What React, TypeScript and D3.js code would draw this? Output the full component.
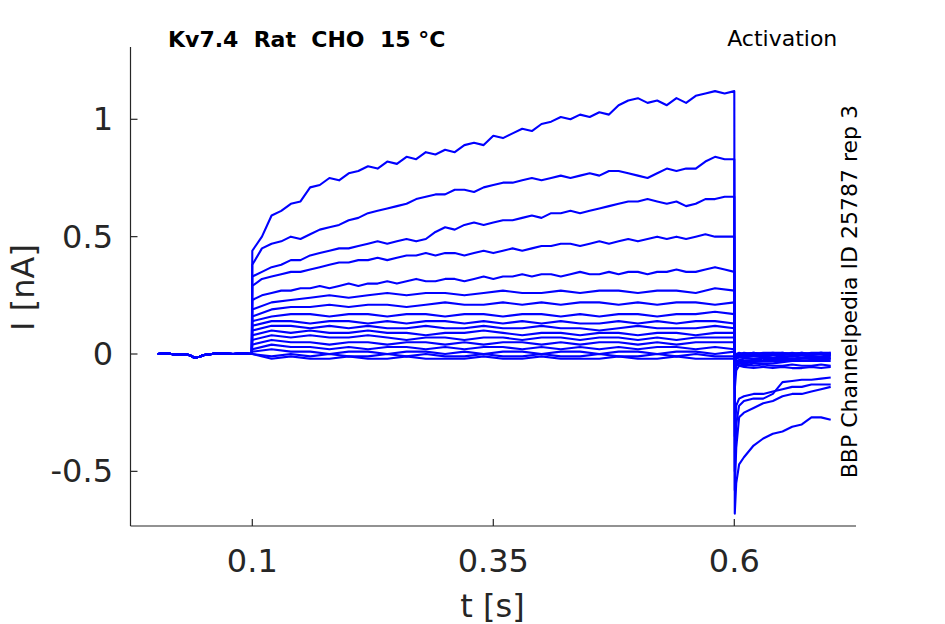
import { line, scaleLinear } from "d3";

const width = 945;
const height = 624;

// holding period before the step, shared by every sweep
const preTimes = [0.002, 0.01, 0.02, 0.03, 0.035, 0.04, 0.045, 0.05, 0.06, 0.07, 0.08, 0.09, 0.0995];
const preValues = [0.0, 0.003, -0.002, 0.0, -0.005, -0.016, -0.012, -0.004, 0.001, 0.002, 0.0, 0.002, 0.0];

// step sampled every 10 ms (largest sweeps)
const fineTimes = [
  0.1, 0.11, 0.12, 0.13, 0.14, 0.15, 0.16, 0.17, 0.18, 0.19, 0.2, 0.21, 0.22, 0.23, 0.24, 0.25, 0.26,
  0.27, 0.28, 0.29, 0.3, 0.31, 0.32, 0.33, 0.34, 0.35, 0.36, 0.37, 0.38, 0.39, 0.4, 0.41, 0.42, 0.43,
  0.44, 0.45, 0.46, 0.47, 0.48, 0.49, 0.5, 0.51, 0.52, 0.53, 0.54, 0.55, 0.56, 0.57, 0.58, 0.59, 0.6,
];
const sweep1 = [
  0.44, 0.5, 0.59, 0.61, 0.64, 0.65, 0.71, 0.72, 0.75, 0.74, 0.77, 0.78, 0.8, 0.79, 0.82, 0.81, 0.84,
  0.83, 0.86, 0.85, 0.87, 0.86, 0.89, 0.9, 0.89, 0.93, 0.92, 0.94, 0.96, 0.95, 0.98, 0.99, 1.01, 1.0,
  1.02, 1.01, 1.03, 1.02, 1.06, 1.08, 1.09, 1.07, 1.08, 1.06, 1.09, 1.07, 1.1, 1.11, 1.12, 1.11, 1.12,
];
const sweep2 = [
  0.38, 0.45, 0.47, 0.48, 0.5, 0.49, 0.51, 0.53, 0.54, 0.55, 0.57, 0.58, 0.6, 0.61, 0.62, 0.63, 0.64,
  0.66, 0.67, 0.68, 0.68, 0.7, 0.7, 0.69, 0.71, 0.72, 0.73, 0.73, 0.74, 0.75, 0.74, 0.75, 0.76, 0.75,
  0.76, 0.77, 0.76, 0.78, 0.78, 0.77, 0.76, 0.75, 0.77, 0.79, 0.78, 0.79, 0.79, 0.82, 0.84, 0.83, 0.83,
];
const sweep3 = [
  0.33, 0.35, 0.37, 0.38, 0.4, 0.4, 0.42, 0.43, 0.44, 0.45, 0.45, 0.46, 0.47, 0.48, 0.47, 0.48, 0.49,
  0.48, 0.49, 0.52, 0.54, 0.53, 0.55, 0.56, 0.55, 0.56, 0.57, 0.57, 0.58, 0.59, 0.58, 0.6, 0.6, 0.61,
  0.6, 0.61, 0.62, 0.63, 0.64, 0.65, 0.65, 0.66, 0.65, 0.64, 0.65, 0.63, 0.64, 0.66, 0.66, 0.67, 0.67,
];
const sweep4 = [
  0.29, 0.32, 0.33, 0.34, 0.35, 0.35, 0.36, 0.37, 0.38, 0.39, 0.39, 0.4, 0.4, 0.41, 0.4, 0.41, 0.42,
  0.42, 0.43, 0.42, 0.43, 0.43, 0.42, 0.43, 0.44, 0.43, 0.44, 0.45, 0.44, 0.45, 0.46, 0.46, 0.47, 0.47,
  0.46, 0.47, 0.48, 0.47, 0.48, 0.49, 0.48, 0.49, 0.5, 0.49, 0.5, 0.49, 0.5, 0.51, 0.5, 0.5, 0.5,
];
const sweep5 = [
  0.23, 0.25, 0.26, 0.27, 0.27, 0.28, 0.28, 0.29, 0.28, 0.29, 0.3, 0.29, 0.3, 0.3, 0.31, 0.3, 0.31,
  0.32, 0.31, 0.31, 0.32, 0.32, 0.31, 0.32, 0.33, 0.32, 0.33, 0.33, 0.34, 0.33, 0.34, 0.34, 0.33, 0.34,
  0.35, 0.34, 0.34, 0.35, 0.34, 0.35, 0.35, 0.34, 0.35, 0.35, 0.36, 0.35, 0.35, 0.36, 0.37, 0.36, 0.35,
];

// step sampled every 20 ms (small sweeps)
const coarseTimes = [
  0.1, 0.12, 0.14, 0.16, 0.18, 0.2, 0.22, 0.24, 0.26, 0.28, 0.3, 0.32, 0.34, 0.36, 0.38, 0.4, 0.42,
  0.44, 0.46, 0.48, 0.5, 0.52, 0.54, 0.56, 0.58, 0.6,
];
const sweep6 = [0.19, 0.22, 0.23, 0.24, 0.25, 0.24, 0.25, 0.26, 0.25, 0.26, 0.26, 0.25, 0.26, 0.27, 0.26, 0.26, 0.27, 0.26, 0.27, 0.27, 0.26, 0.27, 0.27, 0.26, 0.28, 0.27];
const sweep7 = [0.16, 0.19, 0.2, 0.2, 0.21, 0.2, 0.21, 0.21, 0.2, 0.21, 0.22, 0.21, 0.21, 0.22, 0.21, 0.22, 0.21, 0.22, 0.22, 0.21, 0.22, 0.21, 0.22, 0.22, 0.21, 0.22];
const sweep8 = [0.14, 0.16, 0.17, 0.17, 0.16, 0.17, 0.17, 0.16, 0.17, 0.17, 0.16, 0.17, 0.17, 0.16, 0.17, 0.17, 0.16, 0.17, 0.16, 0.17, 0.17, 0.16, 0.17, 0.17, 0.18, 0.17];
const sweep9 = [0.12, 0.14, 0.14, 0.13, 0.14, 0.14, 0.13, 0.14, 0.13, 0.14, 0.14, 0.13, 0.14, 0.13, 0.14, 0.13, 0.14, 0.13, 0.13, 0.14, 0.13, 0.14, 0.13, 0.14, 0.14, 0.13];
const sweep10 = [0.1, 0.12, 0.12, 0.11, 0.12, 0.11, 0.12, 0.11, 0.11, 0.12, 0.11, 0.11, 0.12, 0.11, 0.11, 0.12, 0.11, 0.11, 0.1, 0.11, 0.12, 0.11, 0.11, 0.11, 0.12, 0.11];
const sweep11 = [0.08, 0.1, 0.09, 0.1, 0.09, 0.09, 0.1, 0.09, 0.09, 0.08, 0.09, 0.09, 0.1, 0.09, 0.08, 0.09, 0.09, 0.08, 0.09, 0.09, 0.08, 0.09, 0.09, 0.08, 0.09, 0.09];
const sweep12 = [0.06, 0.08, 0.07, 0.08, 0.07, 0.07, 0.08, 0.07, 0.06, 0.07, 0.07, 0.06, 0.07, 0.07, 0.06, 0.07, 0.07, 0.06, 0.07, 0.07, 0.06, 0.07, 0.06, 0.07, 0.07, 0.07];
const sweep13 = [0.04, 0.06, 0.05, 0.05, 0.04, 0.05, 0.05, 0.04, 0.05, 0.05, 0.04, 0.05, 0.04, 0.05, 0.05, 0.04, 0.05, 0.04, 0.05, 0.05, 0.04, 0.05, 0.04, 0.05, 0.05, 0.05];
const sweep14 = [0.02, 0.04, 0.03, 0.03, 0.02, 0.03, 0.02, 0.03, 0.03, 0.02, 0.03, 0.02, 0.03, 0.03, 0.02, 0.03, 0.02, 0.03, 0.02, 0.03, 0.02, 0.03, 0.03, 0.02, 0.03, 0.02];
const sweep15 = [0.01, 0.02, 0.01, 0.01, 0.0, 0.01, 0.01, 0.0, 0.01, 0.01, 0.0, 0.01, 0.0, 0.01, 0.01, 0.0, 0.01, 0.01, 0.0, 0.01, 0.01, 0.0, 0.01, 0.01, 0.0, 0.01];
const sweep16 = [0.0, -0.01, 0.0, -0.01, 0.0, -0.01, -0.01, 0.0, -0.01, 0.0, -0.01, -0.01, 0.0, -0.01, -0.01, 0.0, -0.01, -0.01, 0.0, -0.01, -0.01, 0.0, -0.01, 0.0, -0.01, -0.01];
const sweep17 = [0.0, -0.02, -0.01, -0.02, -0.02, -0.01, -0.02, -0.02, -0.01, -0.02, -0.02, -0.02, -0.01, -0.02, -0.02, -0.01, -0.02, -0.02, -0.02, -0.01, -0.02, -0.02, -0.01, -0.02, -0.02, -0.02];

// tail currents after the step
const tailTimes = [0.6005, 0.602, 0.605, 0.61, 0.62, 0.63, 0.64, 0.65, 0.66, 0.67, 0.68, 0.69, 0.7];
const tail1 = [-0.68, -0.55, -0.47, -0.44, -0.39, -0.36, -0.34, -0.33, -0.31, -0.3, -0.27, -0.27, -0.28];
const tail2 = [-0.58, -0.4, -0.27, -0.25, -0.23, -0.21, -0.2, -0.18, -0.17, -0.17, -0.16, -0.15, -0.14];
const tail3 = [-0.5, -0.3, -0.22, -0.2, -0.19, -0.19, -0.17, -0.12, -0.115, -0.11, -0.11, -0.105, -0.1];
const tail4 = [-0.35, -0.22, -0.19, -0.18, -0.17, -0.17, -0.16, -0.15, -0.14, -0.14, -0.13, -0.13, -0.13];
const tail5 = [-0.15, -0.07, -0.05, -0.05, -0.04, -0.04, -0.04, -0.035, -0.03, -0.03, -0.03, -0.03, -0.03];
const tail6 = [-0.1, -0.05, -0.04, -0.035, -0.03, -0.03, -0.03, -0.025, -0.025, -0.02, -0.02, -0.02, -0.02];
const tail7 = [-0.08, -0.05, -0.04, -0.04, -0.035, -0.03, -0.03, -0.03, -0.025, -0.03, -0.025, -0.025, -0.02];
const tail8 = [-0.06, -0.04, -0.03, -0.03, -0.025, -0.02, -0.025, -0.02, -0.02, -0.02, -0.015, -0.02, -0.015];
const tail9 = [-0.05, -0.03, -0.025, -0.02, -0.02, -0.015, -0.02, -0.015, -0.01, -0.015, -0.01, -0.015, -0.01];
const tail10 = [-0.04, -0.02, -0.015, -0.015, -0.01, -0.01, -0.015, -0.01, -0.01, -0.005, -0.01, -0.01, -0.005];
const tail11 = [-0.03, -0.015, -0.01, -0.01, -0.005, -0.01, -0.005, -0.005, 0.0, -0.005, -0.005, 0.0, -0.005];
const tail12 = [-0.02, -0.01, -0.005, -0.005, 0.0, -0.005, 0.0, 0.0, -0.005, 0.0, 0.0, 0.005, 0.0];
const tail13 = [-0.015, -0.005, 0.0, 0.0, 0.005, 0.0, 0.0, 0.005, 0.0, 0.005, 0.0, 0.0, 0.005];
const tail14 = [-0.01, 0.0, 0.0, 0.005, 0.0, 0.005, 0.005, 0.0, 0.005, 0.0, 0.005, 0.005, 0.0];
const tail15 = [-0.01, 0.0, 0.005, 0.0, 0.005, 0.0, 0.005, 0.005, 0.0, 0.005, 0.0, 0.005, 0.005];
const tail16 = [-0.02, -0.03, -0.04, -0.045, -0.05, -0.045, -0.05, -0.05, -0.045, -0.05, -0.05, -0.045, -0.05];
const tail17 = [-0.03, -0.04, -0.05, -0.055, -0.06, -0.055, -0.06, -0.055, -0.06, -0.06, -0.055, -0.06, -0.055];

const fineSweeps = [sweep1, sweep2, sweep3, sweep4, sweep5];
const coarseSweeps = [sweep6, sweep7, sweep8, sweep9, sweep10, sweep11, sweep12, sweep13, sweep14, sweep15, sweep16, sweep17];
const tails = [tail1, tail2, tail3, tail4, tail5, tail6, tail7, tail8, tail9, tail10, tail11, tail12, tail13, tail14, tail15, tail16, tail17];

const xTicks = [0.1, 0.35, 0.6];
const yTicks = [-0.5, 0, 0.5, 1];

const title = "Kv7.4  Rat  CHO  15 °C";
const protocol = "Activation";
const sideNote = "BBP Channelpedia ID 25787 rep 3";

const ink = "#262626";
const font = "DejaVu Sans, sans-serif";

type Pt = [number, number];

const zip = (ts: number[], vs: number[]): Pt[] => ts.map((t, i) => [t, vs[i]]);

export default function App() {
  const x = scaleLinear().domain([0.1, 0.6]).range([252.3, 734.3]);
  const y = scaleLinear().domain([0, 1]).range([354, 119.3]);
  const left = 130.5;
  const right = 856;
  const top = 47;
  const bottom = 526;

  const pre = zip(preTimes, preValues);
  const sweeps: Pt[][] = [
    ...fineSweeps.map((s) => zip(fineTimes, s)),
    ...coarseSweeps.map((s) => zip(coarseTimes, s)),
  ].map((s, i) => [...pre, ...s, ...zip(tailTimes, tails[i])]);

  const path = line<Pt>()
    .x((d) => x(d[0]))
    .y((d) => y(d[1]));

  return (
    <svg
      width={width}
      height={height}
      style={{ position: "absolute", left: 0, top: 0, background: "#fff" }}
      fontFamily={font}
    >
      <rect width={width} height={height} fill="#fff" />
      <g fill="none" stroke="#0000ff" strokeWidth={2.1} strokeLinejoin="round">
        {sweeps
          .slice()
          .reverse()
          .map((s, i) => (
            <path key={i} d={path(s) ?? ""} />
          ))}
      </g>

      {/* axes */}
      <g stroke={ink} strokeWidth={1.2} fill="none">
        <line x1={left} x2={left} y1={top} y2={bottom} />
        <line x1={left} x2={right} y1={bottom} y2={bottom} />
        {yTicks.map((t) => (
          <line key={t} x1={left} x2={left + 7} y1={y(t)} y2={y(t)} />
        ))}
        {xTicks.map((t) => (
          <line key={t} x1={x(t)} x2={x(t)} y1={bottom} y2={bottom - 7} />
        ))}
      </g>
      <g fill={ink} fontSize={32}>
        {yTicks.map((t) => (
          <text key={t} x={113} y={y(t) + 11} textAnchor="end">
            {t}
          </text>
        ))}
        {xTicks.map((t) => (
          <text key={t} x={x(t)} y={572} textAnchor="middle">
            {t}
          </text>
        ))}
        <text x={492.5} y={616.5} textAnchor="middle">
          t [s]
        </text>
        <text transform="translate(33.5,287.5) rotate(-90)" textAnchor="middle">
          I [nA]
        </text>
      </g>
      <text
        x={168}
        y={47.3}
        fontSize={22}
        fontWeight="bold"
        fill="#000"
        style={{ whiteSpace: "pre" }}
      >
        {title}
      </text>
      <text x={837.3} y={46} fontSize={22} textAnchor="end" fill="#000">
        {protocol}
      </text>
      <text
        transform="translate(856.7,478.3) rotate(-90)"
        fontSize={22}
        fill="#000"
      >
        {sideNote}
      </text>
    </svg>
  );
}
